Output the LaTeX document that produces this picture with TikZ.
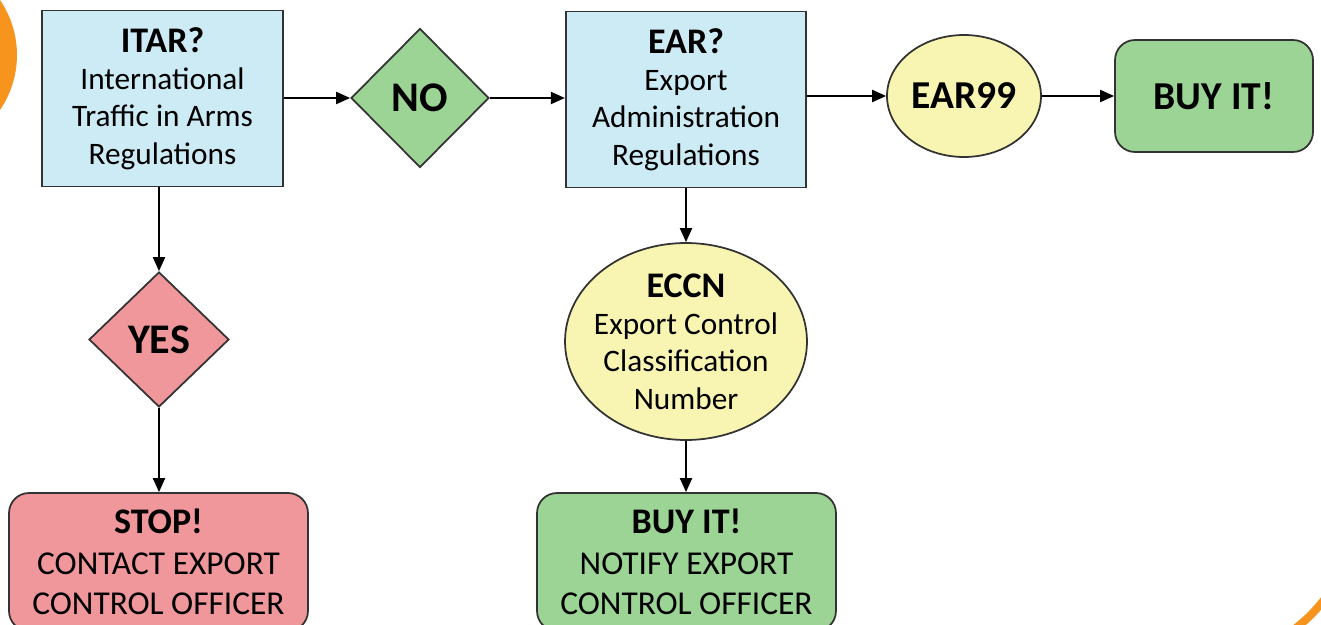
\documentclass[tikz,border=0pt]{standalone}
\usepackage{fontspec}
\setmainfont{Carlito}
\usetikzlibrary{shapes.geometric,arrows.meta}
\definecolor{regblue}{HTML}{CDEBF5}
\definecolor{okgreen}{HTML}{9BD494}
\definecolor{stoppink}{HTML}{F0979C}
\definecolor{clsyellow}{HTML}{F8F5B2}
\definecolor{edgegray}{HTML}{333333}
\definecolor{cornerorange}{HTML}{F7941D}
\newcommand{\ttl}[1]{{\fontsize{20.5}{25}\selectfont\bfseries #1}}

\begin{document}
\begin{tikzpicture}[x=0.02cm,y=-0.02cm,
    base/.style={draw=edgegray, line width=1pt, inner sep=0pt, align=center,
      font=\fontsize{17.8}{21.3}\selectfont},
    regbox/.style={base, rectangle, fill=regblue, minimum width=4.81cm, minimum height=3.52cm},
    answer/.style={base, diamond, aspect=1, font=\fontsize{24}{28}\selectfont\bfseries},
    cls/.style={base, ellipse, fill=clsyellow},
    endbox/.style={base, rectangle, rounded corners=0.4cm},
    officer/.style={endbox, minimum width=5.98cm, minimum height=2.76cm, font=\fontsize{19}{23}\selectfont},
    arrow/.style={-{Triangle[length=0.28cm,width=0.24cm]}, line width=1.1pt}]
    \useasboundingbox (0,0) rectangle (1321,625);
    \fill[white] (0,0) rectangle (1321,625);
    % orange corners
    \fill[cornerorange] (-80.5,55) circle (1.95cm);
    \draw[cornerorange, line width=0.16cm] (1296,628) to[bend right=6] (1324,600);
    % top row
    \node[regbox] (itar) at (162.5,98.5) {\ttl{ITAR?}\\International\\Traffic in Arms\\Regulations};
    \node[answer, fill=okgreen, minimum width=2.76cm, minimum height=2.78cm] (no) at (420,98) {NO};
    \node[regbox] (ear) at (686,99.5) {\ttl{EAR?}\\Export\\Administration\\Regulations};
    \node[cls, minimum width=3.08cm, minimum height=2.44cm, font=\fontsize{22.5}{27}\selectfont\bfseries] (ear99) at (964,96) {EAR99};
    \node[endbox, fill=okgreen, minimum width=3.96cm, minimum height=2.24cm, font=\fontsize{22.5}{27}\selectfont\bfseries] (buy) at (1214,96) {BUY IT!};
    % lower part
    \node[answer, fill=stoppink, minimum width=2.8cm, minimum height=2.7cm] (yes) at (159,339.5) {YES};
    \node[officer, fill=stoppink] (stop) at (158.5,562) {\ttl{STOP!}\\CONTACT EXPORT\\CONTROL OFFICER};
    \node[cls, inner xsep=-0.2cm, minimum width=4.84cm, minimum height=3.94cm] (eccn) at (686,341.5) {\ttl{ECCN}\\Export Control\\Classification\\Number};
    \node[officer, fill=okgreen] (notify) at (686.5,562) {\ttl{BUY IT!}\\NOTIFY EXPORT\\CONTROL OFFICER};
    % connectors
    \draw[arrow] (itar.east |- no.west) -- (no.west);
    \draw[arrow] (no.east) -- (no.east -| ear.west);
    \draw[arrow] (ear.east |- ear99.west) -- (ear99.west);
    \draw[arrow] (ear99.east) -- (ear99.east -| buy.west);
    \draw[arrow] (itar.south -| yes.north) -- (yes.north);
    \draw[arrow] (yes.south) -- (yes.south |- stop.north);
    \draw[arrow] (ear.south) -- (eccn.north);
    \draw[arrow] (eccn.south) -- (eccn.south |- notify.north);
\end{tikzpicture}
\end{document}
